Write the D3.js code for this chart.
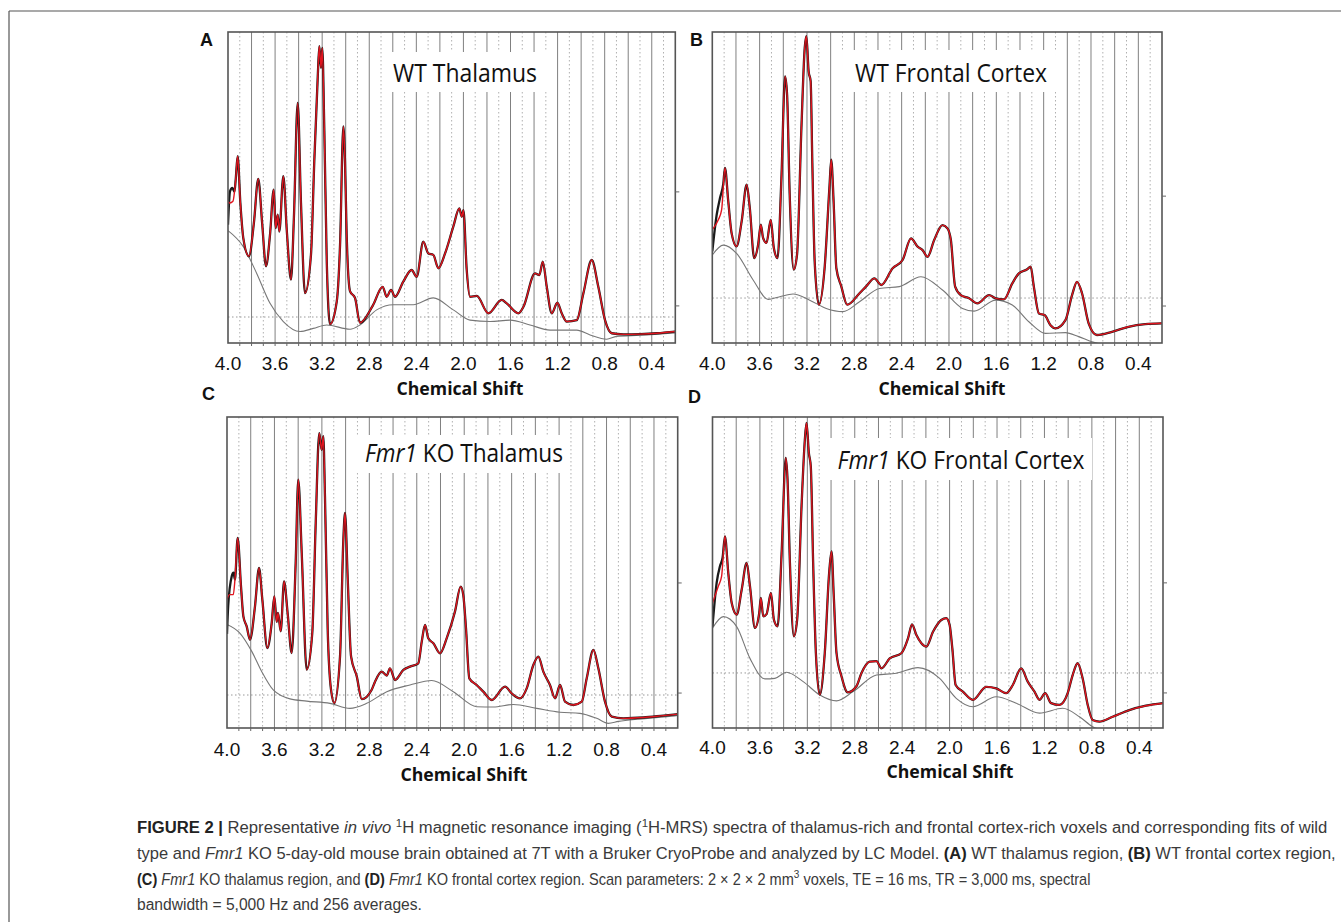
<!DOCTYPE html>
<html><head><meta charset="utf-8">
<script src="https://cdn.jsdelivr.net/npm/d3@7"></script>
<style>body{margin:0;background:#fff}</style>
</head><body>
<svg id="fig" width="1341" height="922" xmlns="http://www.w3.org/2000/svg"></svg>
<script>
// ---------- DATA ----------
const tickValues = [4.0, 3.6, 3.2, 2.8, 2.4, 2.0, 1.6, 1.2, 0.8, 0.4];
const tickLabels = ["4.0", "3.6", "3.2", "2.8", "2.4", "2.0", "1.6", "1.2", "0.8", "0.4"];
const gridSolid = [3.8, 3.6, 3.4, 3.2, 3.0, 2.8, 2.6, 2.4, 2.2, 2.0, 1.8, 1.6, 1.4, 1.2, 1.0, 0.8, 0.6, 0.4];
const gridDotted = [3.9, 3.7, 3.5, 3.3, 3.1, 2.9, 2.7, 2.5, 2.3, 2.1, 1.9, 1.7, 1.5, 1.3, 1.1, 0.9, 0.7, 0.5, 0.3];
const axisTitle = "Chemical Shift";

// [ppm, intensity] ; intensity 0 = dotted reference line, 100 = top of frame
const fitA = [[4.0,40.6],[3.985,40.0],[3.958,40.6],[3.935,48],[3.918,56.4],[3.895,40],[3.87,27.7],[3.822,21.3],[3.78,33],[3.743,48.5],[3.71,33],[3.677,17.8],[3.643,28.9],[3.612,44.7],[3.595,31.2],[3.578,35.9],[3.564,30],[3.53,49.4],[3.50,30],[3.465,13.1],[3.44,35],[3.408,75.1],[3.38,40],[3.346,8.4],[3.295,21.9],[3.267,54.6],[3.238,83.9],[3.224,95],[3.21,87.4],[3.199,94.4],[3.182,66.3],[3.161,19.5],[3.133,-2.5],[3.076,5.5],[3.048,25.4],[3.02,66.9],[3.006,54.6],[2.992,28.9],[2.963,9],[2.921,6.7],[2.879,-2],[2.77,4],[2.686,10.6],[2.652,7.1],[2.615,9.5],[2.581,7.1],[2.511,12.4],[2.44,16.5],[2.397,14.1],[2.341,26.4],[2.298,22.3],[2.256,21.8],[2.213,17.1],[2.156,22.3],[2.086,31.7],[2.035,38.1],[2.014,35.2],[2.0,37.5],[1.972,16.5],[1.944,7.1],[1.887,7.4],[1.788,1.3],[1.675,6.0],[1.632,4.8],[1.533,1.3],[1.49,3.6],[1.392,15.3],[1.355,14.7],[1.326,19.4],[1.292,10.6],[1.25,1.3],[1.202,5.0],[1.165,1.3],[1.122,-1.6],[1.037,-1.1],[0.981,8.3],[0.91,20],[0.854,10.6],[0.797,-1.1],[0.74,-5.7],[0.641,-6.1],[0.5,-6],[0.358,-5.7],[0.2,-5.1]];
const baseA = [[4.0,30.3],[3.87,24.7],[3.756,15.3],[3.643,4.8],[3.53,-1.6],[3.388,-5.1],[3.275,-4.0],[3.161,-2.8],[2.963,-4.3],[2.879,-2.8],[2.737,2.5],[2.596,4.3],[2.426,4.3],[2.256,6.7],[2.086,2.5],[1.944,-1.1],[1.774,-1.6],[1.604,-1.1],[1.434,-2.8],[1.264,-4.6],[1.037,-4.6],[0.924,-6.3],[0.783,-7.8],[0.7,-6.8],[0.5,-6.4],[0.2,-5.6]];
const dataHeadA = [[4.0,32.4],[3.983,44.1],[3.963,45.3],[3.945,44]];

const fitB = [[4.0,25.7],[3.949,29.4],[3.921,33.2],[3.893,48.9],[3.865,36.3],[3.837,24.4],[3.795,19.4],[3.752,28.8],[3.71,42.6],[3.683,33.8],[3.646,15],[3.613,20],[3.59,27.6],[3.571,22.6],[3.542,20.7],[3.506,29.4],[3.48,18.8],[3.449,15],[3.416,45.1],[3.385,83.3],[3.368,76.4],[3.346,38.8],[3.312,10.7],[3.284,16.3],[3.247,63.9],[3.219,94],[3.205,98.4],[3.186,85.2],[3.169,81.5],[3.155,51.4],[3.135,13.8],[3.099,-2.5],[3.051,11.3],[3.009,42.6],[2.995,52],[2.975,36.3],[2.952,11.3],[2.91,4.4],[2.86,-2.5],[2.756,1.8],[2.7,4.4],[2.63,7.4],[2.573,4.9],[2.476,11.2],[2.392,14.3],[2.321,22.4],[2.265,19.3],[2.223,18],[2.181,15.5],[2.125,21.8],[2.055,27.4],[2.013,26.2],[1.984,21.8],[1.948,4.3],[1.9,1.1],[1.83,-0.1],[1.76,-2.0],[1.661,1.1],[1.605,-0.1],[1.535,-0.5],[1.465,5.5],[1.409,9.3],[1.339,10.8],[1.31,11.8],[1.283,4.3],[1.24,-5.8],[1.192,-6.4],[1.142,-10.2],[1.1,-11.4],[1.016,-8.3],[0.96,1.1],[0.918,6.1],[0.876,1.8],[0.82,-9.5],[0.75,-13.9],[0.623,-12.7],[0.483,-10.8],[0.342,-9.8],[0.2,-9.5]];
const baseB = [[4.0,16.2],[3.907,19.9],[3.795,16.8],[3.655,6.8],[3.528,-0.5],[3.43,0.5],[3.318,1.5],[3.177,-0.8],[3.037,-3.9],[2.897,-5.1],[2.756,-1.4],[2.588,3.6],[2.419,4.3],[2.237,8.0],[2.055,3.0],[1.886,-3.9],[1.788,-4.9],[1.605,-0.8],[1.465,-2.6],[1.325,-8.9],[1.184,-13.3],[1.016,-13],[0.904,-14.5],[0.792,-16.4],[0.7,-17.5]];
const dataHeadB = [[4.0,17.5],[3.963,31.3],[3.935,37.6],[3.907,43]];

const fitC = [[4.0,34.3],[3.98,36.1],[3.947,36.1],[3.933,41.5],[3.91,56.5],[3.882,39.1],[3.862,28.3],[3.834,24.7],[3.806,19.9],[3.764,31.9],[3.73,45.7],[3.702,34.3],[3.66,16.9],[3.623,25.9],[3.601,35.5],[3.581,26.3],[3.57,29.5],[3.547,22.9],[3.519,40.9],[3.488,29.1],[3.455,15.1],[3.421,47.5],[3.399,77.5],[3.37,51.1],[3.328,9.1],[3.281,22.3],[3.252,61.9],[3.222,94.2],[3.202,88.2],[3.188,93.1],[3.174,71.5],[3.151,23.5],[3.123,1.9],[3.095,-2.9],[3.047,13.9],[3.019,55.9],[3.005,65.5],[2.982,41.5],[2.954,13.9],[2.906,6.7],[2.864,-1.5],[2.78,1.9],[2.752,4.8],[2.696,8.4],[2.653,7],[2.626,9.6],[2.583,5.4],[2.513,9],[2.457,10.2],[2.387,11.4],[2.358,19.2],[2.33,25.2],[2.303,20.4],[2.26,18.6],[2.204,15],[2.148,20.4],[2.078,30],[2.03,39],[2.008,36],[1.985,24],[1.957,6],[1.895,3.6],[1.839,1.2],[1.768,-1.8],[1.656,3],[1.6,0.6],[1.53,-1.2],[1.473,2.4],[1.417,10.8],[1.375,13.8],[1.333,8.4],[1.277,3.6],[1.234,-1.2],[1.192,3.6],[1.15,-2.4],[1.08,-3.6],[1.009,-2.4],[0.967,6],[0.911,16.2],[0.869,9.6],[0.813,-2.4],[0.756,-7.8],[0.658,-8.4],[0.49,-8.1],[0.32,-7.4],[0.2,-6.9]];
const baseC = [[4.0,25.4],[3.89,22.2],[3.79,15.6],[3.707,8.4],[3.61,1.8],[3.469,-1.4],[3.328,-2.2],[3.132,-3],[2.963,-4.8],[2.822,-3],[2.653,1.2],[2.457,3.6],[2.274,5.2],[2.092,1.2],[1.895,-4.2],[1.755,-4.3],[1.586,-3.4],[1.389,-4.8],[1.192,-6.2],[1.024,-6.6],[0.883,-8.4],[0.785,-10.2],[0.7,-9.5],[0.5,-8.6],[0.2,-7.4]];
const dataHeadC = [[4.0,22],[3.99,32],[3.96,42.7],[3.945,44]];

const fitD = [[4.0,27.3],[3.951,33.9],[3.923,37.8],[3.895,53.4],[3.867,39.1],[3.838,27.3],[3.796,22.8],[3.754,32.5],[3.712,43],[3.684,33.9],[3.642,17.6],[3.606,23.4],[3.592,29.3],[3.572,22.1],[3.544,23],[3.507,31.3],[3.482,20.8],[3.451,18.2],[3.417,46.9],[3.382,84],[3.367,75.5],[3.347,43],[3.314,14.3],[3.286,20.8],[3.249,65.1],[3.221,91.1],[3.207,97.7],[3.187,85.9],[3.171,80.7],[3.151,43],[3.128,7.8],[3.095,-8.5],[3.053,7.8],[3.016,39.1],[2.996,47.5],[2.977,30],[2.954,7.8],[2.912,-1.3],[2.86,-7.6],[2.786,-5.2],[2.744,-0.1],[2.674,4.4],[2.617,4.6],[2.575,1.8],[2.505,5.7],[2.407,7.7],[2.351,13.5],[2.317,19],[2.28,14.8],[2.238,11.6],[2.196,10.3],[2.14,16.1],[2.07,20.7],[2.028,21.4],[2.0,18.8],[1.977,9.6],[1.949,-4.7],[1.888,-7.3],[1.804,-10.5],[1.691,-5.4],[1.607,-6],[1.523,-7.9],[1.467,-4.7],[1.396,1.8],[1.341,-3.4],[1.284,-7.3],[1.242,-10.5],[1.194,-7.9],[1.144,-11.8],[1.074,-12.5],[1.004,-7.9],[0.962,-0.8],[0.92,3.8],[0.878,-2.1],[0.835,-12.5],[0.793,-18.4],[0.737,-19],[0.625,-17.1],[0.484,-14.5],[0.344,-12.8],[0.2,-11.8]];
const baseD = [[4.0,17.5],[3.909,22],[3.796,18.1],[3.684,5.7],[3.558,-2.3],[3.474,-2.1],[3.375,0.3],[3.235,-3.4],[3.095,-8.6],[2.954,-10.9],[2.814,-7.3],[2.617,-0.8],[2.449,-0.1],[2.267,2.1],[2.084,-2.1],[1.944,-9.9],[1.804,-13.2],[1.607,-9.3],[1.438,-11.8],[1.242,-15.7],[1.046,-13.8],[0.905,-17.1],[0.793,-21],[0.7,-22.5]];
const dataHeadD = [[4.0,18.2],[3.965,35.2],[3.937,41.7],[3.915,45]];

const rightTicksA = [43.9, 3.9];
const rightTicksB = [38.3, -3];
const rightTicksC = [40.3, 0.7];
const rightTicksD = [35.2, -7.8];

// ---------- LAYOUT ----------
const panels = [
  {letter:"A", fit:fitA, base:baseA, head:dataHeadA, rt:rightTicksA, x0:228, x1:675.3, top:32, bottom:343, yMin:-9.12,
   title:[{t:"WT Thalamus"}], tx:465, ty:82, tw:144, box:[391,52,156,40], lx:200, ly:46, tly:370, axx:460, axy:395},
  {letter:"B", fit:fitB, base:baseB, head:dataHeadB, rt:rightTicksB, x0:712.3, x1:1162, top:32, bottom:343, yMin:-16.9,
   title:[{t:"WT Frontal Cortex"}], tx:951, ty:82, tw:192, box:[840,50,220,42], lx:690, ly:46, tly:370, axx:942, axy:395},
  {letter:"C", fit:fitC, base:baseC, head:dataHeadC, rt:rightTicksC, x0:227, x1:677.7, top:417, bottom:728, yMin:-11.87,
   title:[{t:"Fmr1", i:true},{t:" KO Thalamus"}], tx:464, ty:462, tw:198, box:[355,435,205,38], lx:202, ly:400, tly:755.5, axx:464, axy:781},
  {letter:"D", fit:fitD, base:baseD, head:dataHeadD, rt:rightTicksD, x0:712.5, x1:1163, top:417, bottom:728, yMin:-21.5,
   title:[{t:"Fmr1", i:true},{t:" KO Frontal Cortex"}], tx:961, ty:468.5, tw:247, box:[830,438,262,42], lx:688, ly:403, tly:753.5, axx:950, axy:778}
];

const svg = d3.select("#fig");
svg.append("rect").attr("width",1341).attr("height",922).attr("fill","#fff");
// outer frame lines
svg.append("line").attr("x1",9).attr("x2",1341).attr("y1",11).attr("y2",11).attr("stroke","#555").attr("stroke-width",1.2);
svg.append("line").attr("x1",9).attr("x2",9).attr("y1",11).attr("y2",922).attr("stroke","#555").attr("stroke-width",1.2);

panels.forEach((p, idx) => {
  const x = d3.scaleLinear().domain([4.0, 0.2]).range([p.x0, p.x1]);
  const y = d3.scaleLinear().domain([p.yMin, 100]).range([p.bottom, p.top]);
  const g = svg.append("g");
  const clipId = "clip" + idx;
  g.append("clipPath").attr("id", clipId).append("rect")
    .attr("x", p.x0).attr("y", p.top).attr("width", p.x1 - p.x0).attr("height", p.bottom - p.top);

  // grid
  g.selectAll(".gd").data(gridDotted).join("line")
    .attr("x1", d => x(d)).attr("x2", d => x(d)).attr("y1", p.top).attr("y2", p.bottom)
    .attr("stroke", "#b0b0b0").attr("stroke-width", 1).attr("stroke-dasharray", "1.5,2.5");
  g.selectAll(".gs").data(gridSolid).join("line")
    .attr("x1", d => x(d)).attr("x2", d => x(d)).attr("y1", p.top).attr("y2", p.bottom)
    .attr("stroke", "#808080").attr("stroke-width", 1);
  // zero reference line
  g.append("line").attr("x1", p.x0).attr("x2", p.x1).attr("y1", y(0)).attr("y2", y(0))
    .attr("stroke", "#999").attr("stroke-width", 1).attr("stroke-dasharray", "1.5,2.5");

  // title box
  g.append("rect").attr("x", p.box[0]).attr("y", p.box[1]).attr("width", p.box[2]).attr("height", p.box[3]).attr("fill", "#fff");

  // curves
  const line = d3.line().x(d => x(d[0])).y(d => y(d[1])).curve(d3.curveMonotoneX);
  const headEnd = p.head[p.head.length - 1][0];
  const dataPts = p.head.concat(p.fit.filter(d => d[0] < headEnd));
  const cg = g.append("g").attr("clip-path", `url(#${clipId})`);
  cg.append("path").attr("d", line(p.base)).attr("fill", "none").attr("stroke", "#777").attr("stroke-width", 1.1);
  cg.append("path").attr("d", line(dataPts)).attr("fill", "none").attr("stroke", "#1a1a1a").attr("stroke-width", 2.3).attr("stroke-linejoin","round");
  cg.append("path").attr("d", line(p.fit)).attr("fill", "none").attr("stroke", "#e0141e").attr("stroke-width", 1.4).attr("stroke-linejoin","round");

  // frame
  g.append("rect").attr("x", p.x0).attr("y", p.top).attr("width", p.x1 - p.x0).attr("height", p.bottom - p.top)
    .attr("fill", "none").attr("stroke", "#555").attr("stroke-width", 1.6);
  // bottom small ticks
  g.selectAll(".bt").data(gridSolid.concat(gridDotted)).join("line")
    .attr("x1", d => x(d)).attr("x2", d => x(d)).attr("y1", p.bottom).attr("y2", p.bottom + 3)
    .attr("stroke", "#666").attr("stroke-width", 1);
  // right ticks
  g.selectAll(".rt").data(p.rt).join("line")
    .attr("x1", p.x1).attr("x2", p.x1 + 4).attr("y1", d => y(d)).attr("y2", d => y(d))
    .attr("stroke", "#666").attr("stroke-width", 1);

  // tick labels
  g.selectAll(".tl").data(tickValues).join("text")
    .attr("x", d => x(d)).attr("y", p.tly).attr("text-anchor", "middle")
    .attr("font-family", "Liberation Sans, Arial, sans-serif").attr("font-size", 19).attr("fill", "#111")
    .text((d, i) => tickLabels[i]);
  // axis title
  g.append("text").attr("x", p.axx).attr("y", p.axy).attr("text-anchor", "middle")
    .attr("font-family", "Open Sans, sans-serif").attr("font-weight", 700).attr("font-size", 18)
    .attr("textLength", 127).attr("lengthAdjust", "spacingAndGlyphs").attr("fill", "#111").text(axisTitle);
  // panel title
  const tt = g.append("text").attr("x", p.tx).attr("y", p.ty).attr("text-anchor", "middle")
    .attr("font-family", "Open Sans, sans-serif").attr("font-size", 25).attr("fill", "#111")
    .attr("textLength", p.tw).attr("lengthAdjust", "spacingAndGlyphs");
  p.title.forEach(s => tt.append("tspan").attr("font-style", s.i ? "italic" : null).text(s.t));
  // panel letter
  g.append("text").attr("x", p.lx).attr("y", p.ly).attr("font-family", "Liberation Sans, Arial, sans-serif")
    .attr("font-weight", 700).attr("font-size", 18).attr("fill", "#111").text(p.letter);
});

// ---------- CAPTION ----------
const captionLines = [
  [{t:"FIGURE 2", b:true},{t:" | ", b:true},{t:"Representative "},{t:"in vivo", i:true},{t:" "},{t:"1", sup:true},{t:"H magnetic resonance imaging ("},{t:"1", sup:true},{t:"H-MRS) spectra of thalamus-rich and frontal cortex-rich voxels and corresponding fits of wild"}],
  [{t:"type and "},{t:"Fmr1", i:true},{t:" KO 5-day-old mouse brain obtained at 7T with a Bruker CryoProbe and analyzed by LC Model. "},{t:"(A)", b:true},{t:" WT thalamus region, "},{t:"(B)", b:true},{t:" WT frontal cortex region,"}],
  [{t:"(C)", b:true},{t:" "},{t:"Fmr1", i:true},{t:" KO thalamus region, and "},{t:"(D)", b:true},{t:" "},{t:"Fmr1", i:true},{t:" KO frontal cortex region. Scan parameters: 2 × 2 × 2 mm"},{t:"3", sup:true},{t:" voxels, TE = 16 ms, TR = 3,000 ms, spectral"}],
  [{t:"bandwidth = 5,000 Hz and 256 averages."}]
];
const capY = [833, 859, 884.5, 910];
const capW = [1191, 1199, 954, 285];
captionLines.forEach((segs, li) => {
  const g = svg.append("g");
  const t = g.append("text").attr("x", 0).attr("y", 0)
    .attr("font-family", "'Liberation Sans', Arial, sans-serif")
    .attr("font-size", 16).attr("fill", "#3a3a3a");
  segs.forEach(s => {
    const ts = t.append("tspan").text(s.t);
    if (s.b) ts.attr("font-weight", 700).attr("fill", "#222");
    if (s.i) ts.attr("font-style", "italic");
    if (s.sup) ts.attr("font-size", 11).attr("baseline-shift", "super");
  });
  const w = t.node().getComputedTextLength();
  const sx = capW[li] / w;
  g.attr("transform", `translate(137,${capY[li]}) scale(${sx},1)`);
});
</script>
</body></html>
